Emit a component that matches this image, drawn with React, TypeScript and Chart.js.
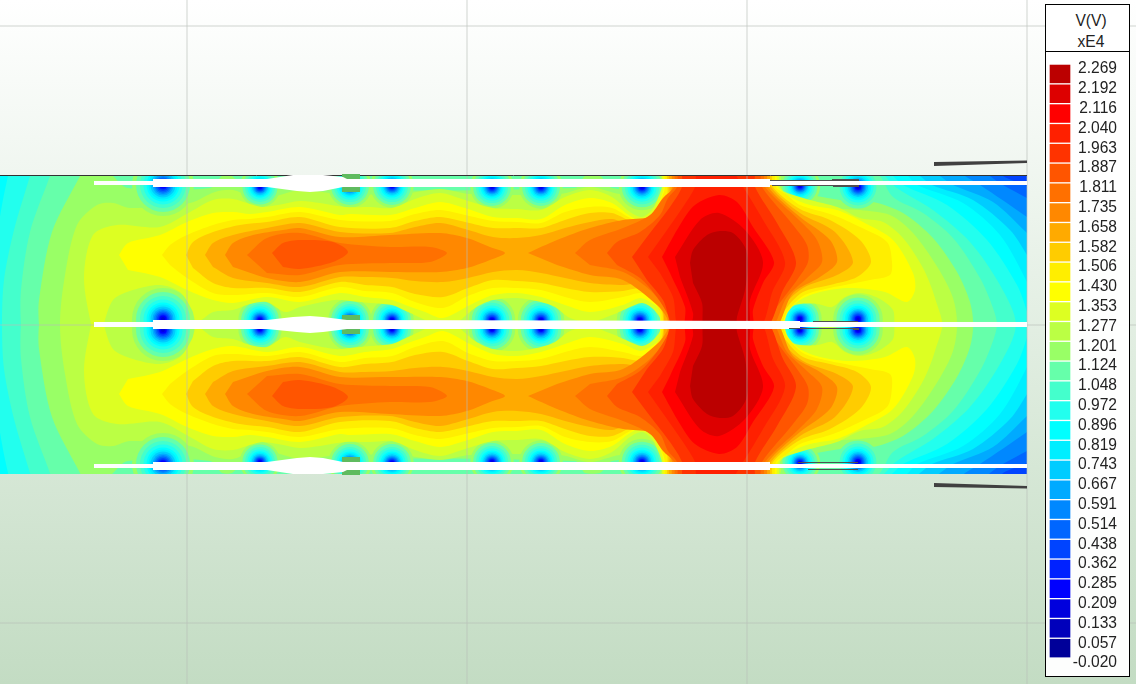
import React, { useEffect, useRef } from "react";
import { Chart, registerables } from "chart.js";

Chart.register(...registerables);

type P = [number, number];

const WIDTH = 1136;
const HEIGHT = 684;
const FIELD_RIGHT = 1027;
const FIELD_TOP = 176;
const FIELD_MID = 325;
const FIELD_BOTTOM = 474;
const GRID_X = [187, 467, 747, 1027];
const GRID_Y = [26, 325, 623];
const MIRROR = 649;

const LEGEND_LABELS = ["2.269","2.192","2.116","2.040","1.963","1.887","1.811","1.735","1.658","1.582","1.506","1.430","1.353","1.277","1.201","1.124","1.048","0.972","0.896","0.819","0.743","0.667","0.591","0.514","0.438","0.362","0.285","0.209","0.133","0.057","-0.020"];
const LEVEL_COLORS = ["#000099","#0000bb","#0000dd","#0000ff","#0022ff","#0044ff","#0066ff","#0088ff","#00aaff","#00ccff","#00eeff","#00ffff","#22ffee","#44ffcc","#66ffaa","#99ff66","#bbff44","#ddff22","#ffff00","#ffee00","#ffcc00","#ffaa00","#ff8800","#ff7000","#ff5500","#ff3300","#ff2000","#ff0000","#dd0000","#bb0000"];

// contour bands of the upper half, lower levels first
const BASE_05: P[] = [[0,170],[1040,170],[1040,330],[0,330]];
const BAND_06: P[] = [[-5,170],[1000,170],[1003,176],[1027,186],[1040,192],[1040,330],[-5,330]];
const BAND_07: P[] = [[-5,170],[985,170],[990,176],[1003,185],[1027,198],[1040,205],[1040,330],[-5,330]];
const BAND_08: P[] = [[-5,170],[958,170],[965,176],[980,185],[1027,217],[1040,227],[1040,330],[-5,330]];
const BAND_09: P[] = [[-5,170],[932,170],[940,176],[953,185],[993,202],[1027,233],[1040,246],[1040,330],[-5,330]];
const BAND_10: P[] = [[-5,170],[912,170],[920,176],[932,185],[973,200],[1010,230],[1027,255],[1040,278],[1040,330],[-5,330]];
const BAND_11: P[] = [[-5,170],[900,170],[908,176],[917,185],[963,203],[1000,235],[1027,282],[1036,305],[1040,330],[-5,330]];
const BAND_12: P[] = [[10,170],[8,176],[2,205],[-3,240],[-5,360],[1040,360],[1027,312],[1017,285],[987,240],[947,205],[903,185],[893,176],[886,170]];
const BAND_13: P[] = [[32,170],[30,176],[14,230],[4,280],[2,325],[4,370],[1000,370],[1016,325],[1000,285],[970,242],[933,210],[897,188],[885,176],[878,170]];
const BAND_14: P[] = [[52,170],[50,176],[30,232],[21,290],[21,325],[27,380],[990,380],[997,326],[993,308],[980,278],[953,238],[923,213],[893,197],[880,176],[870,170]];
const BAND_15: P[] = [[83,170],[80,176],[52,232],[39,300],[39,325],[45,380],[965,380],[973,326],[970,302],[957,272],[933,238],[903,213],[873,202],[840,200],[790,188],[780,170],[660,170],[660,188],[612,188],[600,176],[585,176],[575,188],[245,188],[232,176],[222,176],[210,188],[128,188],[113,176],[108,170]];
const BAND_16: P[] = [[66,380],[60,325],[65,275],[77,225],[97,205],[113,203],[130,208],[190,203],[215,192],[233,190],[250,196],[275,196],[300,190],[340,194],[400,194],[440,189],[470,194],[560,194],[590,187],[620,194],[655,194],[660,170],[776,170],[785,185],[830,207],[860,210],[890,215],[913,233],[938,268],[953,298],[957,326],[950,380]];
const BAND_17: P[] = [[92,330],[84,278],[93,235],[117,225],[160,227],[190,212],[213,200],[233,199],[250,204],[262,207],[278,205],[300,201],[320,203],[345,207],[370,207],[392,208],[415,199],[440,193],[465,200],[493,208],[517,209],[541,210],[565,197],[590,190],[612,197],[630,212],[642,217],[652,210],[658,198],[662,187],[664,170],[776,170],[780,187],[785,192],[810,200],[837,207],[860,218],[883,222],[903,238],[923,268],[935,298],[941,330],[897,330],[893,310],[878,298],[860,293],[845,297],[832,307],[818,304],[800,304],[788,308],[781,316],[780,330],[662,330],[660,318],[652,308],[642,303],[628,308],[612,315],[590,322],[570,318],[555,307],[541,302],[517,298],[493,300],[475,308],[458,322],[443,330],[425,320],[408,312],[392,305],[370,303],[350,301],[335,300],[300,307],[285,312],[267,302],[250,304],[233,310],[213,312],[197,322],[192,310],[180,292],[160,285],[133,290],[113,300],[102,330]];
const BAND_18: P[] = [[119,255],[128,243],[160,235],[187,222],[213,213],[233,212],[250,214],[267,212],[300,207],[340,215],[350,214],[390,215],[415,208],[440,202],[465,208],[493,217],[517,218],[541,219],[565,205],[590,198],[612,203],[630,216],[642,221],[653,213],[660,200],[664,187],[666,170],[774,170],[778,187],[790,197],[810,205],[837,210],[863,222],[893,240],[913,273],[915,290],[907,302],[885,292],[850,288],[820,292],[800,300],[788,312],[779,330],[663,330],[660,310],[650,302],[640,298],[623,305],[590,312],[565,305],[541,297],[517,293],[493,295],[470,305],[443,318],[425,312],[408,306],[392,300],[365,297],[340,293],[300,302],[267,297],[233,303],[213,300],[187,290],[160,277],[128,270]];
const BAND_19: P[] = [[162,255],[170,245],[187,235],[213,225],[233,220],[250,219],[267,217],[300,212],[340,220],[390,221],[415,214],[440,210],[465,215],[493,221],[517,222],[541,223],[565,212],[590,207],[612,208],[630,218],[642,223],[655,211],[664,192],[668,170],[772,170],[776,187],[787,195],[800,205],[833,215],[860,227],[887,242],[892,262],[890,275],[870,280],[845,285],[825,289],[803,296],[787,312],[777,330],[664,330],[660,312],[650,296],[640,293],[623,297],[590,302],[565,297],[541,290],[517,288],[493,288],[468,296],[443,308],[415,302],[392,293],[365,291],[340,287],[300,297],[267,293],[233,295],[213,293],[187,278],[170,265]];
const BAND_20: P[] = [[186,255],[193,242],[213,232],[240,225],[267,222],[300,217],[340,227],[390,228],[415,221],[440,217],[465,222],[493,228],[517,228],[541,228],[565,220],[590,213],[612,213],[630,221],[642,226],[655,214],[667,195],[670,170],[770,170],[773,187],[800,209],[830,220],[860,240],[871,262],[857,277],[830,285],[803,292],[785,310],[775,330],[666,330],[662,312],[650,292],[640,288],[623,291],[590,292],[565,288],[541,283],[517,281],[493,280],[468,288],[443,297],[415,294],[392,287],[365,285],[340,282],[300,292],[267,288],[233,288],[213,283],[193,268]];
const BAND_21: P[] = [[205,255],[213,243],[233,235],[267,228],[300,223],[340,232],[390,233],[415,227],[440,223],[465,229],[493,237],[517,238],[541,235],[565,228],[590,222],[612,219],[630,225],[645,225],[657,218],[669,197],[672,170],[768,170],[771,187],[800,213],[835,232],[853,262],[837,275],[803,288],[780,310],[773,330],[668,330],[663,312],[652,288],[640,283],[623,285],[590,283],[565,278],[541,273],[517,270],[493,272],[468,278],[443,282],[415,281],[392,278],[365,277],[340,277],[300,287],[267,283],[233,278],[213,267]];
const BAND_22_LEFT: P[] = [[225,255],[233,243],[253,235],[283,230],[300,228],[340,237],[390,235],[440,233],[467,238],[490,247],[505,253],[490,260],[467,268],[440,272],[390,272],[340,272],[300,282],[267,278],[233,267]];
const BAND_22_RIGHT: P[] = [[528,253],[557,240],[590,228],[623,220],[650,217],[660,208],[668,198],[672,187],[674,170],[765,170],[768,187],[800,217],[830,240],[837,262],[820,277],[793,293],[772,330],[670,330],[667,318],[657,305],[623,280],[590,275],[557,265]];
const BAND_23_LEFT: P[] = [[247,255],[267,238],[300,233],[340,243],[390,247],[430,247],[447,253],[430,262],[390,263],[340,265],[300,275],[267,273]];
const BAND_23_RIGHT: P[] = [[575,253],[590,240],[623,228],[650,215],[663,198],[674,187],[677,170],[762,170],[765,187],[800,221],[817,240],[822,262],[807,278],[787,297],[768,330],[672,330],[667,312],[650,290],[623,272],[590,265]];
const BAND_24_LEFT: P[] = [[272,253],[283,243],[300,240],[333,242],[348,252],[333,262],[300,269],[283,267]];
const BAND_24_RIGHT: P[] = [[607,253],[617,242],[640,232],[660,215],[668,198],[677,187],[680,170],[758,170],[762,187],[793,225],[807,245],[808,262],[797,280],[777,307],[765,330],[674,330],[668,315],[657,297],[640,278],[617,265]];
const BAND_25: P[] = [[632,257],[650,233],[670,207],[682,187],[684,170],[753,170],[755,187],[777,223],[796,262],[783,290],[763,330],[677,330],[663,300],[647,280]];
const BAND_26: P[] = [[648,257],[667,230],[683,207],[695,187],[698,170],[730,170],[743,187],[763,220],[785,262],[773,290],[757,330],[681,330],[673,297],[660,273]];
const BAND_27: P[] = [[662,257],[680,225],[695,205],[719,195],[737,202],[753,227],[774,262],[763,283],[753,310],[752,330],[687,330],[685,307],[670,273]];
const BAND_28: P[] = [[675,257],[700,220],[719,213],[745,230],[763,262],[750,300],[747,330],[693,330],[693,313],[680,277]];
const BAND_29: P[] = [[690,263],[693,250],[707,235],[720,231],[733,233],[745,247],[748,263],[745,290],[737,317],[735,330],[705,330],[702,303],[693,283]];

const LOW_BANDS: [number, P[]][] = [[5,BASE_05],[6,BAND_06],[7,BAND_07],[8,BAND_08],[9,BAND_09],[10,BAND_10],[11,BAND_11],[12,BAND_12],[13,BAND_13],[14,BAND_14],[15,BAND_15],[16,BAND_16]];
const HIGH_BANDS: [number, P[]][] = [[17,BAND_17],[18,BAND_18],[19,BAND_19],[20,BAND_20],[21,BAND_21],[22,BAND_22_LEFT],[22,BAND_22_RIGHT],[23,BAND_23_LEFT],[23,BAND_23_RIGHT],[24,BAND_24_LEFT],[24,BAND_24_RIGHT],[25,BAND_25],[26,BAND_26],[27,BAND_27],[28,BAND_28],[29,BAND_29]];

// low-potential spots around the conductors (upper half)
const SPOT_X =     [163, 260, 350, 392, 492, 541, 642, 800, 858, 163, 260, 350, 392, 492, 541, 640, 800, 858];
const SPOT_Y =     [185, 187, 186, 186, 187, 187, 187, 186, 187, 319, 320, 320, 320, 320, 320, 320, 319, 319];
const SPOT_SIZE =  [1.0, .65, .70, .70, .70, .70, .75, .65, .80, 1.0, .70, .70, .70, .75, .75, .75, .70, .80];
const SPOT_TOP =   [15,  15,  15,  15,  15,  15,  15,  15,  14,  15,  15,  15,  15,  15,  15,  15,  15,  15];
const RING_LEVELS = [15, 14, 13, 12, 11, 10, 9, 8, 7, 6, 5, 4, 3, 2];
const RING_SIZES =  [31, 27, 23, 19.5, 16.5, 14.5, 12.5, 10.5, 9, 7.5, 6, 4.5, 3.5, 2];

// conductors and fittings
const TOP_BAR: P[] = [[94,181],[153,181],[153,179],[267,179],[293,175],[323,175],[343,177],[347,179],[770,179],[770,181],[1027,181],[1027,185],[770,185],[770,187],[347,187],[343,187],[323,191],[310,192],[297,191],[267,187],[153,187],[153,185],[94,185]];
const MID_BAR: P[] = [[94,322],[153,322],[153,320],[267,320],[293,317],[310,316],[323,317],[347,320],[800,321],[800,322],[1027,322],[1027,327],[800,327],[800,329],[347,329],[323,332],[310,333],[297,332],[267,329],[153,329],[153,327],[94,327]];
const TOP_CLAMP: P[] = [[342,174],[360,174],[360,192],[342,192]];
const MID_CLAMP: P[] = [[342,315],[360,315],[360,334],[342,334]];
const SHIELD: P[] = [[934,162],[1027,160.5],[1027,163],[934,166]];
const EDGE: P[] = [[0,175.5],[1027,175.5]];
const WIRES: [P[], number][] = [
  [[[770,180.5],[832,180.5]],1],[[[832,180],[859,180]],2],
  [[[772,185.5],[833,185.5]],1],[[[833,186],[859,186]],2],
  [[[813,321.5],[858,321.5]],1],[[[789,328.5],[853,328.5]],1],[[[853,329],[859,329]],2],
  [[[798,462.5],[858,462.5]],1],[[[808,469.5],[858,469.5]],1],
];

const mirror = (pts: P[]): P[] => pts.map(([x, y]) => [x, MIRROR - y] as P);
const toXY = (pts: P[]) => pts.map(([x, y]) => ({ x, y }));

const shape = (pts: P[], color: string, tension = 0) => ({
  type: "scatter", data: toXY(pts), showLine: true, fill: "shape", borderWidth: 0,
  backgroundColor: color, borderColor: color, pointRadius: 0, tension,
});
const stroke = (pts: P[], color: string, width: number) => ({
  type: "scatter", data: toXY(pts), showLine: true, fill: false, borderWidth: width,
  borderColor: color, backgroundColor: color, pointRadius: 0,
});

const hidden = { border: { display: false }, ticks: { display: false } };
const rangeScales = (x0: number, x1: number, y0: number, y1: number): any => ({
  x: { type: "linear", min: x0, max: x1, display: false },
  y: { type: "linear", min: y0, max: y1, reverse: true, display: false },
});
const gridScales = (): any => {
  const g = (vals: number[]) => ({
    afterBuildTicks: (a: any) => { a.ticks = vals.map((value) => ({ value })); },
    grid: { color: "rgba(182,190,182,0.32)", lineWidth: 2, drawTicks: false },
    ...hidden,
  });
  return {
    x: { type: "linear", min: 0, max: WIDTH, ...g(GRID_X) },
    y: { type: "linear", min: 0, max: HEIGHT, reverse: true, ...g(GRID_Y) },
  };
};

const baseOptions: any = {
  responsive: false, animation: false, events: [],
  layout: { padding: 0, autoPadding: false },
  plugins: { legend: { display: false }, tooltip: { enabled: false } },
};

function fieldDatasets(flip: boolean) {
  const f = (pts: P[]) => (flip ? mirror(pts) : pts);
  const out: any[] = [];
  for (const [lvl, pts] of LOW_BANDS) out.push(shape(f(pts), LEVEL_COLORS[lvl], 0.3));
  RING_LEVELS.forEach((lvl, k) => {
    const idx = SPOT_X.map((_, i) => i).filter((i) => SPOT_TOP[i] >= lvl);
    const pts: P[] = idx.map((i) => [SPOT_X[i], SPOT_Y[i]]);
    out.push({
      type: "scatter", data: toXY(f(pts)), showLine: false, clip: 0,
      pointRadius: idx.map((i) => RING_SIZES[k] * SPOT_SIZE[i]), pointBorderWidth: 0,
      pointBackgroundColor: LEVEL_COLORS[lvl], pointBorderColor: LEVEL_COLORS[lvl],
    });
  });
  for (const [lvl, pts] of HIGH_BANDS) out.push(shape(f(pts), LEVEL_COLORS[lvl], 0.3));
  return out.reverse();
}

function hardwareDatasets() {
  const out: any[] = [];
  const green = "#5fbb5f", dark = "#404040";
  out.push(stroke(EDGE, "#333333", 1));
  out.push(shape(TOP_CLAMP, green), shape(MID_CLAMP, green), shape(mirror(TOP_CLAMP), green));
  out.push(shape(TOP_BAR, "#ffffff"), shape(MID_BAR, "#ffffff"), shape(mirror(TOP_BAR), "#ffffff"));
  out.push(shape(SHIELD, dark), shape(mirror(SHIELD), dark));
  for (const [pts, w] of WIRES) out.push(stroke(pts, "#505050", w));
  return out.reverse();
}

function legendDatasets() {
  return LEVEL_COLORS.map((color, i) => {
    const low = 0.3 + i;
    return {
      data: [[low, low + 0.9]], backgroundColor: color, borderWidth: 0,
      grouped: false, barThickness: 20, clip: 6,
    };
  });
}

export default function App() {
  const upperRef = useRef<HTMLCanvasElement>(null);
  const lowerRef = useRef<HTMLCanvasElement>(null);
  const gridRef = useRef<HTMLCanvasElement>(null);
  const hardRef = useRef<HTMLCanvasElement>(null);
  const legendRef = useRef<HTMLCanvasElement>(null);

  useEffect(() => {
    const upper = new Chart(upperRef.current as any, {
      type: "scatter",
      data: { datasets: fieldDatasets(false) as any },
      options: { ...baseOptions, scales: rangeScales(0, FIELD_RIGHT, FIELD_TOP, FIELD_MID) },
    });
    const lower = new Chart(lowerRef.current as any, {
      type: "scatter",
      data: { datasets: fieldDatasets(true) as any },
      options: { ...baseOptions, scales: rangeScales(0, FIELD_RIGHT, FIELD_MID, FIELD_BOTTOM) },
    });
    const grid = new Chart(gridRef.current as any, {
      type: "scatter",
      data: { datasets: [] },
      options: { ...baseOptions, scales: gridScales() },
    });
    const hard = new Chart(hardRef.current as any, {
      type: "scatter",
      data: { datasets: hardwareDatasets() as any },
      options: { ...baseOptions, scales: rangeScales(0, WIDTH, 0, HEIGHT) },
    });
    const legend = new Chart(legendRef.current as any, {
      type: "bar",
      data: { labels: ["V(V)"], datasets: legendDatasets() as any },
      options: {
        ...baseOptions,
        layout: { padding: { left: 4, right: 13, top: 15, bottom: 16 }, autoPadding: false },
        scales: {
          x: { display: false },
          y: {
            type: "linear", position: "right", min: 0, max: 30,
            grid: { display: false, drawTicks: false }, border: { display: false },
            afterFit: (s: any) => { s.width = 47; },
            ticks: {
              stepSize: 1, autoSkip: false, crossAlign: "far", padding: 3, color: "#222222",
              font: { family: "'Liberation Sans', Arial, sans-serif", size: 15.6 },
              callback: (v: any) => LEGEND_LABELS[30 - Number(v)],
            },
          },
        },
      } as any,
    });
    return () => { upper.destroy(); lower.destroy(); grid.destroy(); hard.destroy(); legend.destroy(); };
  }, []);

  const abs: React.CSSProperties = { position: "absolute", left: 0, top: 0 };
  return (
    <div style={{ position: "fixed", left: 0, top: 0, width: WIDTH, height: HEIGHT, overflow: "hidden",
      background: "linear-gradient(180deg,#ffffff 0%,#c3dcc3 100%)" }}>
      <canvas ref={upperRef} width={FIELD_RIGHT} height={FIELD_MID - FIELD_TOP} style={{ ...abs, top: FIELD_TOP }} />
      <canvas ref={lowerRef} width={FIELD_RIGHT} height={FIELD_BOTTOM - FIELD_MID} style={{ ...abs, top: FIELD_MID }} />
      <canvas ref={gridRef} width={WIDTH} height={HEIGHT} style={abs} />
      <canvas ref={hardRef} width={WIDTH} height={HEIGHT} style={abs} />
      <div style={{ position: "absolute", left: 1045, top: 4, width: 83, height: 671, border: "1px solid #000",
        background: "rgba(255,255,255,0.96)", fontFamily: "'Liberation Sans', Arial, sans-serif", fontSize: 15.6, color: "#222" }}>
        <div style={{ height: 47, background: "#fff", borderBottom: "1px solid #000", textAlign: "center", lineHeight: "21px", paddingTop: 5, paddingLeft: 7, boxSizing: "border-box" }}>
          <div>V(V)</div>
          <div>xE4</div>
        </div>
      </div>
      <canvas ref={legendRef} width={84} height={625} style={{ position: "absolute", left: 1046, top: 54 }} />
    </div>
  );
}
